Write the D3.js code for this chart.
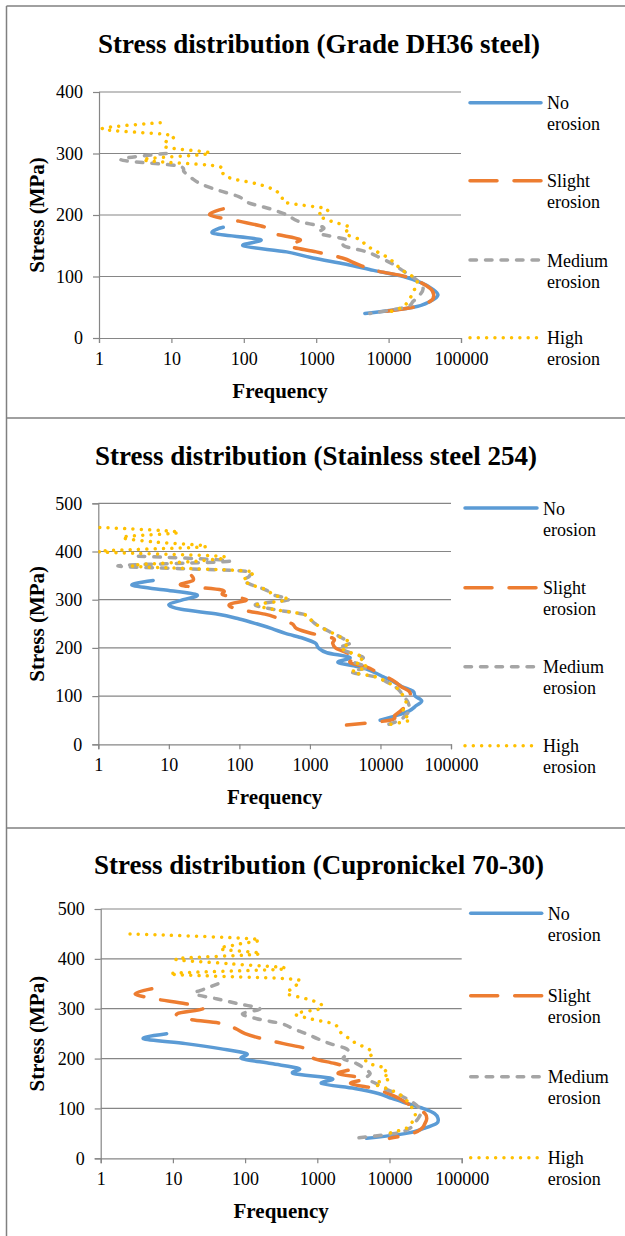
<!DOCTYPE html>
<html>
<head>
<meta charset="utf-8">
<script src="https://cdn.jsdelivr.net/npm/d3@7"></script>
<style>
  html, body { margin: 0; padding: 0; background: #fff; }
  svg { display: block; font-family: "Liberation Serif", "Times New Roman", serif; }
</style>
</head>
<body>
<svg id="chart" width="625" height="1236"></svg>
<script>
// ---- data: stress (MPa) and frequency per series ----
const seriesNames = ["No erosion", "Slight erosion", "Medium erosion", "High erosion"];
const freqTicks = [1, 10, 100, 1000, 10000, 100000];
const titles = ["Stress distribution (Grade DH36 steel)", "Stress distribution (Stainless steel 254)", "Stress distribution (Cupronickel 70-30)"];

// Grade DH36 steel
const dh36NoStress = [180, 170, 160, 150, 140, 130, 120, 110, 100, 90, 80, 70, 60, 50, 40];
const dh36NoFreq = [52, 38, 170, 98, 390, 900, 2600, 6200, 16000, 28000, 40000, 48000, 38000, 22000, 4700];
const dh36SlightStress = [210, 200, 190, 180, 170, 160, 150, 140, 130, 120, 110, 100, 90, 80, 70, 60, 50, 40];
const dh36SlightFreq = [52, 34, 85, 200, 255, 600, 410, 1000, 2300, 3700, 6400, 17000, 28000, 38000, 42000, 38000, 22000, 5500];
const dh36MediumStress = [300, 290, 280, 270, 260, 250, 240, 230, 220, 210, 200, 190, 180, 170, 160, 150, 140, 130, 120, 110, 100, 90, 80, 70, 60, 50, 40];
const dh36MediumFreq = [8.5, 2, 12, 15, 19, 26, 45, 85, 115, 230, 400, 560, 1250, 1100, 2600, 2400, 5000, 7800, 11500, 15500, 21000, 27000, 30000, 27000, 22000, 17000, 5500];
const dh36HighStress = [350, 340, 330, 320, 310, 300, 290, 280, 270, 260, 250, 240, 230, 220, 210, 200, 190, 180, 170, 160, 150, 140, 130, 120, 110, 100, 90, 80, 70, 60, 50, 40];
const dh36HighFreq = [7, 1.1, 9.6, 8.5, 8.6, 34, 4, 40, 49, 65, 160, 270, 335, 390, 1400, 1070, 1600, 2900, 2500, 4000, 5000, 7000, 10000, 12500, 15500, 21500, 25000, 23000, 21000, 18500, 15500, 8800];

// Stainless steel 254
const ss254NoStress = [340, 330, 320, 310, 300, 290, 280, 270, 260, 250, 240, 230, 220, 210, 200, 190, 180, 170, 160, 150, 140, 130, 120, 110, 100, 90, 80, 70, 60, 50];
const ss254NoFreq = [6, 3, 9, 25, 16, 10, 15, 50, 100, 175, 290, 450, 800, 1190, 1320, 1740, 3700, 2500, 5200, 7900, 11000, 15300, 20000, 29000, 31000, 38500, 32000, 26000, 17000, 9900];
const ss254SlightStress = [350, 340, 330, 320, 310, 300, 290, 280, 270, 260, 250, 240, 230, 220, 210, 200, 190, 180, 170, 160, 150, 140, 130, 120, 110, 100, 90, 80, 70, 60, 50, 40];
const ss254SlightFreq = [21, 22, 15, 56, 59, 126, 72, 96, 230, 375, 560, 650, 1060, 2130, 2100, 2300, 3300, 4600, 3700, 6400, 8800, 12200, 16000, 19500, 25500, 26500, 25500, 23000, 19500, 16000, 13700, 3300];
const ss254MediumStress = [390, 380, 370, 360, 350, 340, 330, 320, 310, 300, 290, 280, 270, 260, 250, 240, 230, 220, 210, 200, 190, 180, 170, 160, 150, 140, 130, 120, 110, 100, 90, 80, 70, 60, 50, 40];
const ss254MediumFreq = [3.7, 74, 1.9, 100, 140, 113, 155, 240, 300, 500, 170, 300, 800, 1000, 1190, 1560, 2140, 2900, 3700, 2670, 3700, 5700, 4300, 6500, 3900, 8500, 12000, 16000, 19000, 21000, 24000, 25500, 26000, 22500, 18900, 12200];
const ss254HighStress = [450, 440, 430, 420, 410, 400, 390, 380, 370, 360, 350, 340, 330, 320, 310, 300, 290, 280, 270, 260, 250, 240, 230, 220, 210, 200, 190, 180, 170, 160, 150, 140, 130, 120, 110, 100, 90, 80, 70, 60, 50, 40];
const ss254HighFreq = [1.05, 14, 2.2, 6, 33, 1.0, 55, 25, 3, 115, 140, 113, 155, 250, 300, 480, 180, 300, 800, 1000, 1190, 1560, 2140, 2900, 3700, 2800, 3800, 5800, 4500, 6500, 4000, 8500, 12000, 16000, 19000, 21000, 23000, 22000, 21000, 22000, 26000, 12300];

// Cupronickel 70-30
const cnNoStress = [250, 240, 230, 220, 210, 200, 190, 180, 170, 160, 150, 140, 130, 120, 110, 100, 90, 80, 70, 60, 50, 40];
const cnNoFreq = [8.2, 3.9, 15, 45, 105, 90, 230, 560, 470, 1600, 1150, 3300, 7000, 10800, 17600, 29000, 42000, 47000, 45000, 30000, 17000, 4800];
const cnSlightStress = [340, 330, 320, 310, 300, 290, 280, 270, 260, 250, 240, 230, 220, 210, 200, 190, 180, 170, 160, 150, 140, 130, 120, 110, 100, 90, 80, 70, 60, 50, 40];
const cnSlightFreq = [5.1, 3.0, 5.5, 15, 26, 11.5, 15, 50, 74, 100, 170, 340, 700, 840, 900, 1750, 3000, 1950, 4500, 2900, 6400, 9500, 13600, 17600, 23500, 31000, 32800, 31000, 28000, 21000, 10000];
const cnMediumStress = [350, 340, 330, 320, 310, 300, 290, 280, 270, 260, 250, 240, 230, 220, 210, 200, 190, 180, 170, 160, 150, 140, 130, 120, 110, 100, 90, 80, 70, 60, 50, 40];
const cnMediumFreq = [42, 28, 20, 40, 80, 160, 92, 145, 320, 460, 700, 1000, 1500, 2500, 2700, 2300, 3500, 4500, 5400, 4800, 6500, 8500, 12500, 17000, 22000, 26000, 27000, 25000, 22000, 19000, 12000, 3100];
const cnHighStress = [450, 440, 430, 420, 410, 400, 390, 380, 370, 360, 350, 340, 330, 320, 310, 300, 290, 280, 270, 260, 250, 240, 230, 220, 210, 200, 190, 180, 170, 160, 150, 140, 130, 120, 110, 100, 90, 80, 70, 60, 50];
const cnHighFreq = [2.55, 130, 85, 45, 161, 11, 65, 357, 9, 400, 520, 440, 380, 700, 1100, 1100, 500, 790, 1650, 1950, 2180, 2780, 3500, 5000, 5900, 4700, 5200, 9000, 8000, 10200, 6300, 9100, 13300, 16000, 19000, 20700, 22700, 22000, 20000, 17000, 9700];

// ---- styles for the four series ----
const seriesStyles = [
    { color: "#5B9BD5", dash: null },
    { color: "#ED7D31", dash: "27,17" },
    { color: "#A5A5A5", dash: "6.5,9" },
    { color: "#FFC000", dash: "0.01,8.3" }
];

function pairs(freq, stress) {
    return freq.map((f, i) => [f, stress[i]]);
}

// layout of the three stacked charts
const panels = [
    {
        title: titles[0], yMax: 400,
        series: [pairs(dh36NoFreq, dh36NoStress), pairs(dh36SlightFreq, dh36SlightStress), pairs(dh36MediumFreq, dh36MediumStress), pairs(dh36HighFreq, dh36HighStress)],
        left: 99, right: 461, top: 92, bottom: 338, titleX: 319, titleY: 53,
        legendX: 470, legendW: 71, legendY: [102.7, 180.7, 260, 337.7]
    },
    {
        title: titles[1], yMax: 500,
        series: [pairs(ss254NoFreq, ss254NoStress), pairs(ss254SlightFreq, ss254SlightStress), pairs(ss254MediumFreq, ss254MediumStress), pairs(ss254HighFreq, ss254HighStress)],
        left: 98.3, right: 451, top: 503.3, bottom: 744.3, titleX: 316, titleY: 465,
        legendX: 465, legendW: 72, legendY: [508, 587.7, 666.7, 745.7]
    },
    {
        title: titles[2], yMax: 500,
        series: [pairs(cnNoFreq, cnNoStress), pairs(cnSlightFreq, cnSlightStress), pairs(cnMediumFreq, cnMediumStress), pairs(cnHighFreq, cnHighStress)],
        left: 100.7, right: 461.7, top: 909, bottom: 1158.3, titleX: 319, titleY: 874,
        legendX: 470.7, legendW: 71, legendY: [913.3, 995.7, 1076.7, 1157.7]
    }
];

const svg = d3.select("#chart");
svg.append("rect").attr("width", 625).attr("height", 1236).attr("fill", "#fff");

// outer frame and separators
const frame = svg.append("g").attr("stroke", "#808080").attr("stroke-width", 1.5);
frame.append("line").attr("x1", 6.5).attr("x2", 625).attr("y1", 6).attr("y2", 6);
frame.append("line").attr("x1", 6.5).attr("x2", 6.5).attr("y1", 6).attr("y2", 1236);
frame.append("line").attr("x1", 6.5).attr("x2", 625).attr("y1", 418).attr("y2", 418);
frame.append("line").attr("x1", 6.5).attr("x2", 625).attr("y1", 828).attr("y2", 828);

const axisColor = "#868686";

panels.forEach((p, pi) => {
    const g = svg.append("g");

    const x = d3.scaleLog().domain([1, 100000]).range([p.left, p.right]);
    const y = d3.scaleLinear().domain([0, p.yMax]).range([p.bottom, p.top]);
    const yTicks = d3.range(0, p.yMax + 1, 100);

    // title
    g.append("text")
        .attr("x", p.titleX)
        .attr("y", p.titleY)
        .attr("text-anchor", "middle")
        .style("font-size", "27px")
        .style("font-weight", "bold")
        .text(p.title);

    // gridlines
    g.append("g")
        .selectAll("line")
        .data(yTicks.filter(t => t > 0))
        .enter().append("line")
        .attr("x1", p.left).attr("x2", p.right)
        .attr("y1", d => y(d)).attr("y2", d => y(d))
        .attr("stroke", axisColor)
        .attr("stroke-width", 1.2);

    // y axis
    const yAxis = g.append("g")
        .attr("transform", `translate(${p.left},0)`)
        .call(d3.axisLeft(y).tickValues(yTicks).tickSize(6).tickPadding(10).tickFormat(d3.format("d")));
    yAxis.select(".domain").attr("stroke", axisColor).attr("stroke-width", 1.2);
    yAxis.selectAll(".tick line").attr("stroke", axisColor).attr("stroke-width", 1.2);
    yAxis.selectAll("text").style("font-size", "18px").style("font-family", "Liberation Serif").attr("fill", "#000");

    // x axis
    const xAxis = g.append("g")
        .attr("transform", `translate(0,${p.bottom})`)
        .call(d3.axisBottom(x).tickValues(freqTicks).tickSize(5).tickPadding(9).tickFormat(d3.format("d")));
    xAxis.select(".domain").attr("stroke", axisColor).attr("stroke-width", 1.2);
    xAxis.selectAll(".tick line").attr("stroke", axisColor).attr("stroke-width", 1.2);
    xAxis.selectAll("text").style("font-size", "18px").style("font-family", "Liberation Serif").attr("fill", "#000");

    // axis titles
    g.append("text")
        .attr("x", (p.left + p.right) / 2)
        .attr("y", p.bottom + 60)
        .attr("text-anchor", "middle")
        .style("font-size", "21px")
        .style("font-weight", "bold")
        .text("Frequency");

    g.append("text")
        .attr("transform", `translate(44,${(p.top + p.bottom) / 2}) rotate(-90)`)
        .attr("text-anchor", "middle")
        .style("font-size", "21px")
        .style("font-weight", "bold")
        .text("Stress (MPa)");

    // series lines, clipped to the plot area
    const clipId = `clip-${pi}`;
    g.append("clipPath").attr("id", clipId)
        .append("rect")
        .attr("x", p.left).attr("y", p.top - 2)
        .attr("width", p.right - p.left).attr("height", p.bottom - p.top + 2);

    const line = d3.line()
        .x(d => x(d[0]))
        .y(d => y(d[1]))
        .curve(d3.curveCatmullRom.alpha(0));

    const plot = g.append("g").attr("clip-path", `url(#${clipId})`);
    p.series.forEach((s, si) => {
        plot.append("path")
            .datum(s)
            .attr("d", line)
            .attr("fill", "none")
            .attr("stroke", seriesStyles[si].color)
            .attr("stroke-width", 3.5)
            .attr("stroke-linecap", "round")
            .attr("stroke-linejoin", "round")
            .attr("stroke-dasharray", seriesStyles[si].dash);
    });

    // legend
    const legend = g.append("g");
    seriesNames.forEach((name, si) => {
        const ly = p.legendY[si];
        legend.append("line")
            .attr("x1", p.legendX).attr("x2", p.legendX + p.legendW)
            .attr("y1", ly).attr("y2", ly)
            .attr("stroke", seriesStyles[si].color)
            .attr("stroke-width", 3.5)
            .attr("stroke-linecap", "round")
            .attr("stroke-dasharray", seriesStyles[si].dash);
        const words = name.split(" ");
        const txt = legend.append("text")
            .attr("x", p.legendX + p.legendW + 6)
            .attr("y", ly + 6.5)
            .style("font-size", "18px");
        txt.append("tspan").attr("x", p.legendX + p.legendW + 6).text(words[0]);
        txt.append("tspan").attr("x", p.legendX + p.legendW + 6).attr("dy", 21).text(words[1]);
    });
});
</script>
</body>
</html>
